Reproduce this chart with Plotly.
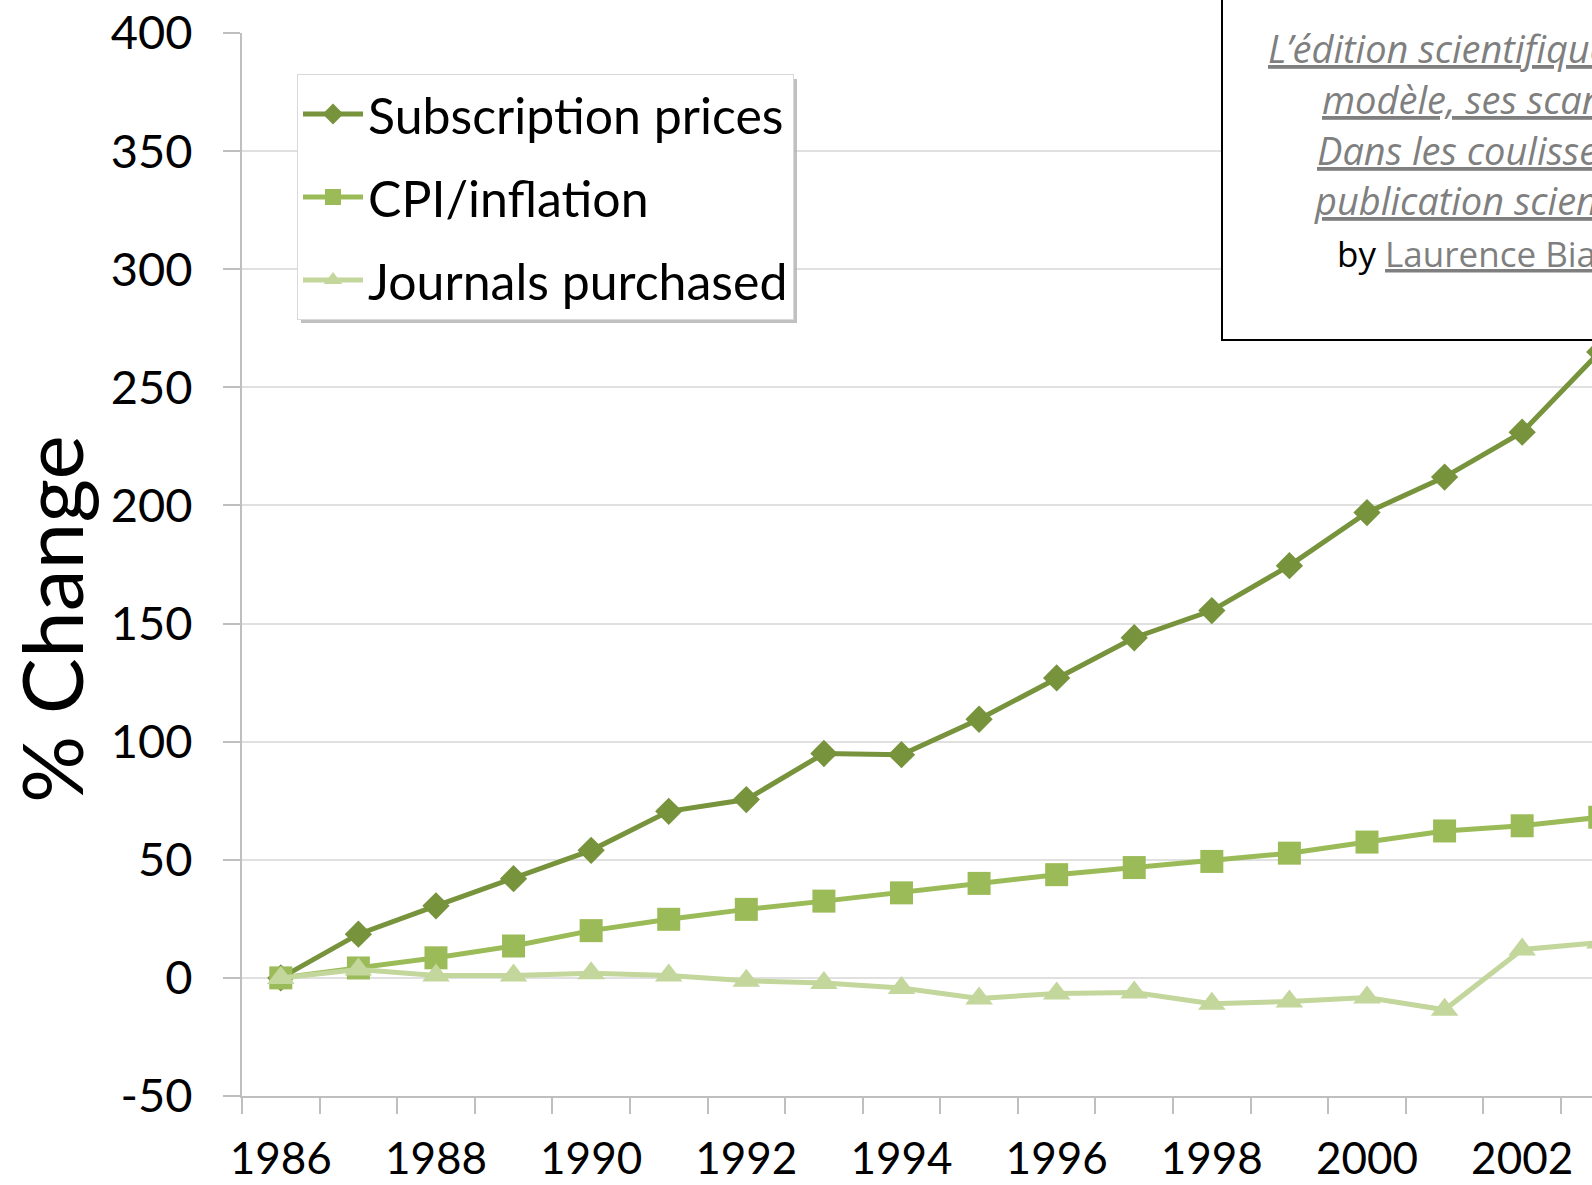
import plotly.graph_objects as go

years = list(range(1986, 2004))
subscription_prices = [0, 18.5, 30.5, 42, 54, 70.5, 75.5, 95, 94.5, 109.5, 127, 144, 155.5, 174.5, 197, 212, 231, 265]
cpi_inflation = [0, 4.2, 8.5, 13.5, 20, 24.8, 29, 32.5, 36, 40, 43.7, 46.7, 49.3, 52.8, 57.5, 62.2, 64.4, 68]
journals_purchased = [0, 3.5, 1, 1, 2, 1, -1.2, -2.2, -4.3, -8.7, -6.6, -6.2, -10.9, -10, -8.3, -13.5, 12, 15]

series_names = ["Subscription prices", "CPI/inflation", "Journals purchased"]
y_ticks = [-50, 0, 50, 100, 150, 200, 250, 300, 350, 400]
y_tick_text = ["-50", "0", "50", "100", "150", "200", "250", "300", "350", "400"]
x_tick_years = [1986, 1988, 1990, 1992, 1994, 1996, 1998, 2000, 2002]
y_title = "% Change"

source_lines = [
    "L’édition scientifique : son",
    "modèle, ses scandales",
    "Dans les coulisses de la",
    "publication scientifique",
]
author = "Laurence Bianchini"

W, H = 1592, 1185
L, R, T, B = 242, 0, 33, 89
pw, ph = W - L - R, H - T - B

def px(xp):
    return (xp - L) / pw

def py(yp):
    return (H - B - yp) / ph

colors = ["#77933C", "#9BBB59", "#C3D69B"]
symbols = ["diamond", "square", "triangle-up"]
sizes = [21, 23, 24]

fig = go.Figure()
for i, (name, vals) in enumerate(zip(series_names, [subscription_prices, cpi_inflation, journals_purchased])):
    fig.add_trace(go.Scatter(
        x=years, y=vals, name=name, mode="lines+markers",
        line=dict(color=colors[i], width=5),
        marker=dict(symbol=symbols[i], size=sizes[i], color=colors[i], line=dict(width=0)),
        legendgroup=f"g{i}",
    ))

font_family = "Lato, 'Open Sans', sans-serif"
ann_family = "'Open Sans', Lato, sans-serif"

fig.update_layout(
    width=W, height=H,
    margin=dict(l=L, r=R, t=T, b=B, pad=0, autoexpand=False),
    paper_bgcolor="white", plot_bgcolor="white",
    font=dict(family=font_family, color="#000000"),
    showlegend=True,
    legend=dict(
        x=px(297), y=py(74), xanchor="left", yanchor="top",
        bgcolor="white", bordercolor="#d9d9d9", borderwidth=1,
        font=dict(size=50, family=font_family, color="#000000"),
        itemwidth=60, tracegroupgap=15,
    ),
    xaxis=dict(
        range=[1985.5, 2002.9], automargin=False,
        tickmode="array", tickvals=x_tick_years, ticktext=[str(y) for y in x_tick_years],
        ticks="", showgrid=False, zeroline=False,
        showline=True, linecolor="#bfbfbf", linewidth=2,
        tickfont=dict(size=44, family=font_family, color="#000000"),
        ticklabelstandoff=23,
        minor=dict(tickmode="linear", tick0=1985.5, dtick=1, ticks="outside",
                   ticklen=16, tickwidth=2, tickcolor="#bfbfbf", showgrid=False),
    ),
    yaxis=dict(
        range=[-50, 400], automargin=False,
        tickmode="array", tickvals=y_ticks, ticktext=y_tick_text,
        ticks="outside", ticklen=17, tickwidth=2, tickcolor="#bfbfbf",
        showgrid=True, gridcolor="#e0e0e0", gridwidth=2,
        zeroline=False,
        showline=True, linecolor="#bfbfbf", linewidth=2,
        tickfont=dict(size=47, family=font_family, color="#000000"),
        ticklabelstandoff=21,
    ),
)

shapes = [
    # legend shadow
    dict(type="rect", xref="paper", yref="paper", x0=px(301), x1=px(797), y0=py(323), y1=py(79),
         fillcolor="#b0b0b0", line=dict(width=0), layer="above", opacity=0.8),
    # source box
    dict(type="rect", xref="paper", yref="paper", x0=px(1222), x1=px(1900), y0=py(340), y1=py(-20),
         fillcolor="white", line=dict(color="#000000", width=2), layer="above"),
]
fig.update_layout(shapes=shapes)

# y-axis title
fig.add_annotation(
    xref="paper", yref="paper", x=px(50), y=py(619), xanchor="center", yanchor="middle",
    text=y_title, textangle=-90, showarrow=False,
    font=dict(size=84, family=font_family, color="#000000"),
)

line_starts = [1266, 1320, 1315, 1312]
line_ys = [48, 99, 150, 200]
for txt, xs, ys in zip(source_lines, line_starts, line_ys):
    fig.add_annotation(
        xref="paper", yref="paper", x=px(xs), y=py(ys), xanchor="left", yanchor="middle",
        text=f"<i><u>{txt}</u></i>", showarrow=False,
        font=dict(size=38, family=ann_family, color="#7f7f7f"),
    )
fig.add_annotation(
    xref="paper", yref="paper", x=px(1335), y=py(254), xanchor="left", yanchor="middle",
    text=f"<span style='color:#000000'>by</span> <u>{author}</u>", showarrow=False,
    font=dict(size=35, family=ann_family, color="#7f7f7f"),
)

fig.write_html("out.html")
